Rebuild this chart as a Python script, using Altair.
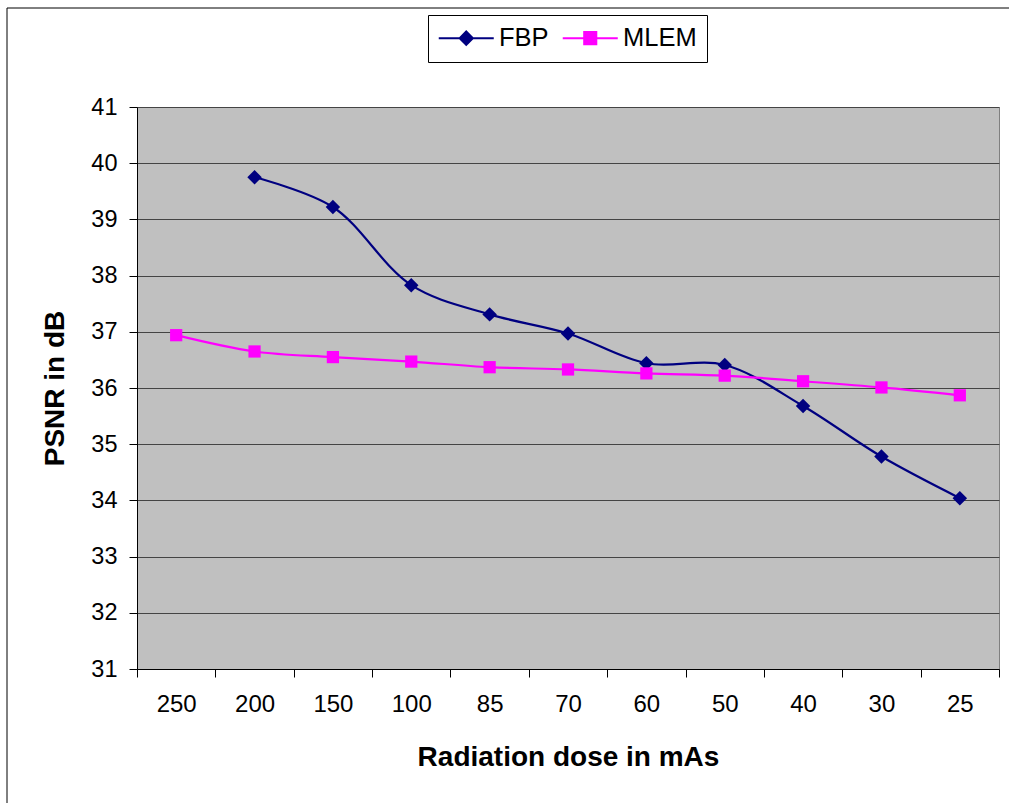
import altair as alt
import pandas as pd

doses = ["250", "200", "150", "100", "85", "70", "60", "50", "40", "30", "25"]
fbp = [None, 39.75, 39.22, 37.83, 37.31, 36.97, 36.44, 36.41, 35.68, 34.78, 34.04]
mlem = [36.94, 36.65, 36.55, 36.47, 36.37, 36.33, 36.26, 36.22, 36.12, 36.01, 35.87]
series = ["FBP", "MLEM"]
colors = ["#000080", "#FF00FF"]
marker_shapes = ["diamond", "square"]
marker_sizes = [210, 150]
y_ticks = list(range(31, 42))

rows = []
for name, vals in zip(series, [fbp, mlem]):
    for d, v in zip(doses, vals):
        if v is not None:
            rows.append({"dose": d, "psnr": v, "series": name})
df = pd.DataFrame(rows)

FONT = "Liberation Sans"

x_enc = alt.X(
    "dose:O",
    sort=doses,
    scale=alt.Scale(type="band", paddingInner=0, paddingOuter=0),
    axis=alt.Axis(
        title="Radiation dose in mAs",
        labelAngle=0,
        tickBand="extent",
        grid=False,
        labelFontSize=24,
        labelPadding=15,
        titleFontSize=28,
        titlePadding=27,
    ),
)
y_enc = alt.Y(
    "psnr:Q",
    scale=alt.Scale(domain=[31, 41], nice=False, zero=False),
    axis=alt.Axis(
        title="PSNR in dB",
        values=y_ticks,
        grid=True,
        labelFontSize=23.5,
        labelPadding=12,
        titleFontSize=28,
        titlePadding=21,
    ),
)
color_enc = alt.Color(
    "series:N", scale=alt.Scale(domain=series, range=colors), legend=None
)

base = alt.Chart(df)

lines = base.mark_line(interpolate="catmull-rom", strokeWidth=2.2).encode(
    x=x_enc, y=y_enc, color=color_enc
)

point_layers = []
for s, shp, sz in zip(series, marker_shapes, marker_sizes):
    point_layers.append(
        base.transform_filter(alt.datum.series == s)
        .mark_point(filled=True, opacity=1, strokeWidth=0, shape=shp, size=sz)
        .encode(x=x_enc, y=y_enc, color=color_enc)
    )

legend_paths = [
    "M-2.5,0L2.5,0M0,-0.6L0.6,0L0,0.6L-0.6,0Z",
    "M-2.5,0L2.5,0M-0.55,-0.55L0.55,-0.55L0.55,0.55L-0.55,0.55Z",
]
leg = alt.Legend(title=None, orient="none", legendX=291, legendY=-92, direction="horizontal")

# invisible layer whose only job is to provide the legend
legend_layer = base.mark_point(filled=True, opacity=0).encode(
    x=x_enc,
    y=y_enc,
    fill=alt.Fill("series:N", scale=alt.Scale(domain=series, range=colors), legend=leg),
    stroke=alt.Stroke("series:N", scale=alt.Scale(domain=series, range=colors), legend=leg),
    shape=alt.Shape("series:N", scale=alt.Scale(domain=series, range=legend_paths), legend=leg),
)

border = alt.Chart(alt.Data(values=[{}])).mark_rect(
    fill=None, stroke="black", strokeWidth=1, clip=False
).encode(
    x=alt.value(-130), x2=alt.value(900), y=alt.value(-99), y2=alt.value(700)
)

chart = (
    alt.layer(border, lines, *point_layers, legend_layer)
    .resolve_scale(fill="independent", stroke="independent", shape="independent")
    .properties(
        width=862,
        height=562,
        autosize=alt.AutoSizeParams(type="none"),
        padding={"left": 137, "top": 107, "right": 10, "bottom": 134},
        background="white",
    )
    .configure_view(fill="#C0C0C0", stroke="#808080", strokeWidth=1)
    .configure_axis(
        labelFont=FONT,
        titleFont=FONT,
        labelColor="black",
        titleColor="black",
        titleFontWeight="bold",
        domainColor="black",
        domainWidth=1,
        tickColor="black",
        tickSize=8,
        tickWidth=1,
        gridColor="#444444",
        gridWidth=1,
    )
    .configure_legend(
        labelFont=FONT,
        labelFontSize=25.5,
        labelColor="black",
        symbolSize=484,
        symbolStrokeWidth=2,
        symbolOffset=15.5,
        symbolOpacity=1,
        symbolFillColor="white",
        symbolStrokeColor="black",
        labelOffset=20,
        columnPadding=9,
        padding=10,
        strokeColor="black",
        fillColor="white",
        symbolLimit=0,
    )
)

chart.save("out.html", embed_options={"renderer": "svg", "actions": False})
